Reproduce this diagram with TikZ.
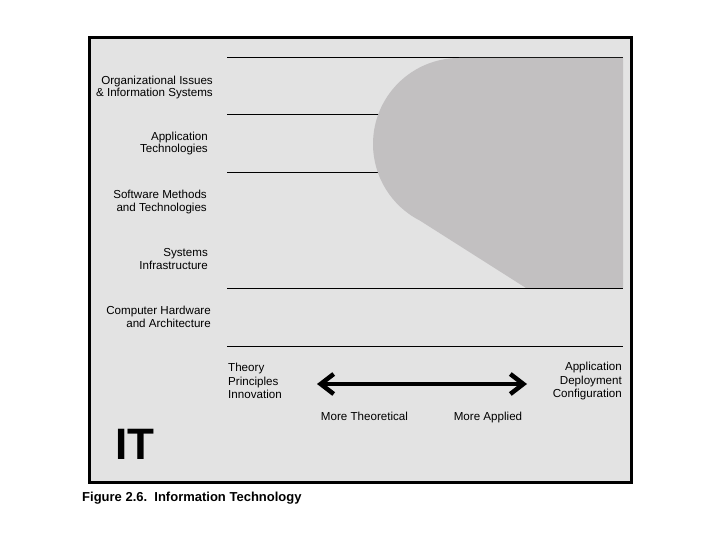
\documentclass[tikz,border=0pt]{standalone}
\usepackage{fontspec}
\setmainfont{Liberation Sans}
\usetikzlibrary{arrows.meta}
\definecolor{panel}{HTML}{E3E3E3}
\definecolor{blob}{HTML}{C2C0C1}
\tikzset{
  lbl/.style={font=\fontsize{11.6}{12.8}\selectfont, align=right, anchor=east, inner sep=0pt},
  lft/.style={font=\fontsize{11.6}{13.6}\selectfont, align=left, anchor=west, inner sep=0pt},
  rgt/.style={font=\fontsize{11.6}{13.6}\selectfont, align=right, anchor=east, inner sep=0pt},
  axlbl/.style={font=\fontsize{11.6}{13}\selectfont, anchor=base, inner sep=0pt},
  rule/.style={line width=1pt, black},
  bigarrow/.style={line width=4.5pt, {Straight Barb[length=13pt,width=20pt]}-{Straight Barb[length=13pt,width=20pt]}}
}
\begin{document}
\begin{tikzpicture}[x=1pt,y=-1pt]
\useasboundingbox (0,0) rectangle (720,540);
\fill[white] (0,0) rectangle (720,540);
\draw[line width=3pt, fill=panel] (89.5,37.5) rectangle (631.5,482.5);
% rules
\foreach \yy in {58,115,173,288,346} \draw[rule] (227,\yy) -- (623,\yy);
% gray region
\fill[blob] (623,58) -- (459,58) arc[start angle=90, end angle=243, radius=86pt] -- (526,288) -- (623,288) -- cycle;
\draw[rule] (526,288) -- (623,288);
% labels
\node[lbl] (l1) at (213,87.5) {Organizational Issues\\\& Information Systems};
\node[lbl] (l2) at (208,143.5) {Application\\Technologies};
\node[lbl] (l3) at (207,202) {Software Methods\\and Technologies};
\node[lbl] (l4) at (208,259) {Systems\\Infrastructure};
\node[lbl] (l5) at (211,317) {Computer Hardware\\and Architecture};
% bottom
\node[lft] (th) at (228,381) {Theory\\Principles\\Innovation};
\node[rgt] (ap) at (622,381) {Application\\Deployment\\Configuration};
\coordinate (al) at (317,384);
\coordinate (ar) at (527,384);
\draw[bigarrow] (al) -- (ar);
\node[axlbl] (mt) at (364.5,420) {More Theoretical};
\node[axlbl] (ma) at (488,420) {More Applied};
\node[font=\fontsize{44}{44}\selectfont\bfseries, anchor=west, inner sep=0pt] (it) at (115,444) {IT};
\node[font=\fontsize{13}{14}\selectfont\bfseries, anchor=west, inner sep=0pt] (fig) at (82,498) {Figure 2.6.\ \ Information Technology};
\end{tikzpicture}
\end{document}
